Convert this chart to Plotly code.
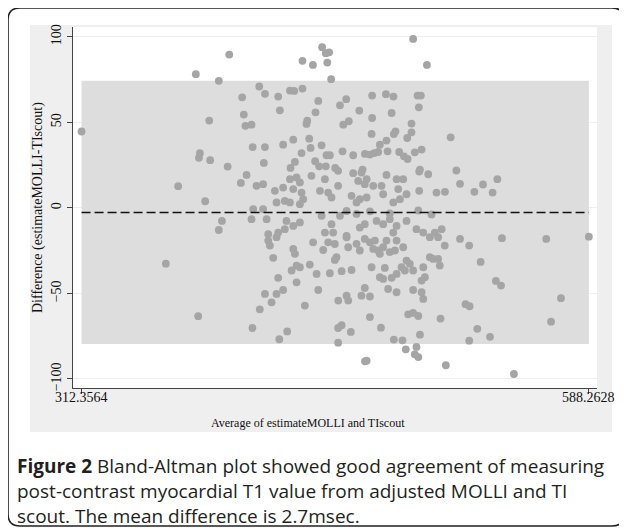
import plotly.graph_objects as go

# ---------------- data ----------------
average = [
    # left part
    392.7, 374.5, 387.0, 399.7, 400.6, 381.8, 401.5, 312.3564, 376.7, 376.2, 382.3, 391.8, 402.1, 399.0,
    364.9, 379.6, 388.7, 387.0, 358.2, 375.8,
    # right part
    513.1, 516.2, 518.2, 526.0, 530.7, 535.9, 538.5, 518.2, 523.2, 541.0, 565.1, 588.2628, 529.4, 537.7,
    540.5, 573.1, 521.2, 523.4, 567.7, 527.6, 534.5, 523.2, 547.5,
    # centre, top
    492.7, 443.2, 445.2, 447.0, 432.5, 438.2, 446.0, 500.2, 448.1, 409.0, 412.1, 419.3, 425.7, 428.0,
    432.5, 441.1, 456.3, 470.4, 477.9, 482.0, 495.1, 496.9,
    # centre, upper middle
    452.9, 420.2, 439.6, 463.4, 481.0, 495.8, 470.4, 404.8, 435.1, 434.7, 454.7, 457.7, 491.8, 483.1,
    482.2, 491.8, 489.5, 470.1, 405.4, 412.1, 422.0, 427.5, 436.2, 436.9, 442.9, 432.0, 445.6, 447.4,
    454.3, 460.1, 466.5, 469.2, 471.5, 473.7, 474.6, 478.2, 478.8, 485.1, 487.7, 489.7, 493.6, 497.3,
    411.5, 428.4, 426.0, 439.4, 441.6, 445.2, 450.3, 465.2, 496.4,
    # centre, around the mean
    451.9, 460.1, 464.6, 478.2, 487.3, 496.0, 500.9, 407.5, 411.1, 417.5, 422.0, 425.7, 429.3, 431.1,
    427.5, 432.0, 432.9, 437.4, 444.7, 442.0, 446.5, 448.3, 451.9, 462.8, 466.4, 467.4, 471.0, 475.5,
    476.4, 459.2, 463.7, 467.4, 461.9, 483.7, 484.6, 489.1, 481.9, 485.5, 496.0, 505.4, 510.0, 418.4,
    422.9, 425.7, 431.1, 405.7, 411.1, 404.8, 413.0, 423.8, 427.5, 431.1, 422.9, 419.3, 413.9, 442.9,
    448.3, 452.9, 449.2, 444.7, 456.5, 463.7, 466.4, 472.8, 476.4, 480.0, 483.7, 481.9, 489.1, 494.5,
    498.2, 504.5, 508.2, 456.5, 461.9, 469.2, 480.0, 495.5, 502.7,
    # centre, lower middle
    413.9, 418.4, 414.8, 427.5, 428.4, 438.3, 446.5, 450.1, 443.8, 456.5, 457.4, 461.9, 463.7, 466.4,
    469.2, 471.0, 471.9, 473.7, 474.6, 476.4, 478.2, 480.0, 482.8, 483.7, 487.3, 501.8, 506.3, 416.6,
    431.1, 429.3, 426.6, 436.5, 440.2, 451.0, 450.1, 447.4, 453.8, 459.2, 470.1, 477.3, 481.0, 483.7,
    486.4, 489.1, 490.9, 492.7, 488.2, 474.6, 476.4, 498.2, 499.1, 497.3, 501.8, 503.6, 506.3, 507.2,
    509.9, 419.3, 429.3, 412.1, 418.4, 422.0, 441.1, 456.5, 452.0, 457.4, 464.6, 466.4, 469.2, 479.1,
    483.7, 492.7, 497.3, 498.2, 415.7, 433.8,
    # centre, bottom
    409.3, 405.3, 424.2, 419.9, 451.9, 453.8, 458.8, 451.9, 469.2, 475.2, 490.0, 492.7, 495.5, 496.4,
    482.2, 486.9, 488.7, 494.5, 493.6, 495.5, 466.5, 467.4, 507.6, 510.5,
]

difference = [
    # left part
    89.7, 78.2, 74.3, 64.7, 54.6, 51.1, 48.0, 44.7, 32.0, 29.3, 27.9, 24.2, 19.3, 14.6,
    12.7, 3.9, -7.6, -12.9, -32.6, -63.3,
    # right part
    41.3, 21.9, 14.1, 9.4, 13.7, 9.0, 16.8, -18.1, -22.0, -17.7, -18.1, -16.8, -31.6, -42.7,
    -45.4, -52.8, -56.3, -57.5, -66.5, -70.7, -75.4, -77.6, -97.1,
    # centre, top
    98.8, 94.0, 90.5, 91.0, 86.0, 83.6, 85.0, 83.6, 75.3, 71.0, 66.7, 65.1, 68.6, 68.4,
    69.8, 62.6, 63.6, 65.7, 66.5, 65.1, 65.7, 65.7,
    # centre, upper middle
    60.0, 57.1, 55.9, 56.9, 55.5, 58.8, 52.6, 48.7, 51.0, 49.1, 48.7, 50.7, 49.3, 44.8,
    43.2, 44.2, 40.9, 43.3, 35.6, 35.6, 37.0, 39.9, 40.5, 35.1, 36.6, 32.1, 30.8, 30.8,
    33.1, 30.8, 31.6, 31.2, 32.1, 32.7, 37.0, 39.4, 33.1, 32.7, 30.2, 28.6, 32.5, 34.1,
    26.3, 26.9, 23.4, 27.3, 24.3, 24.3, 23.4, 22.4, 22.4,
    # centre, around the mean
    21.7, 20.3, 20.7, 19.3, 16.8, 21.3, 19.7, 12.9, 13.9, 10.0, 11.9, 16.8, 17.8, 14.9,
    11.0, 9.0, 5.1, 18.8, 16.8, 10.0, 9.0, 6.1, 12.9, 15.8, 13.9, 16.8, 12.9, 12.9,
    8.0, 7.1, 5.1, 6.1, 3.2, 16.8, 11.0, 8.0, 3.2, 5.1, 10.0, 9.0, 9.4, 3.2,
    4.1, 3.2, 2.2, -0.7, -0.7, -6.6, -6.6, -7.6, -10.5, -8.5, -12.4, -14.4, -15.4, -4.6,
    -9.5, -4.6, -14.4, -14.4, -16.3, -11.5, -9.5, -7.6, -9.5, -6.6, -10.5, -14.4, -7.6, -12.4,
    -14.4, -14.4, -12.4, -1.8, -3.5, -2.0, -3.2, -1.5, -3.8,
    # centre, lower middle
    -19.1, -17.1, -22.0, -24.0, -26.9, -20.1, -20.1, -21.1, -24.6, -17.2, -23.0, -21.0, -24.9, -18.1,
    -20.1, -24.0, -19.1, -24.9, -26.9, -23.0, -19.1, -25.9, -24.9, -19.1, -23.0, -17.1, -17.1, -29.2,
    -34.7, -33.7, -36.6, -33.1, -38.6, -28.8, -30.4, -38.2, -37.0, -36.3, -34.7, -35.1, -40.9, -38.6,
    -34.7, -30.8, -32.7, -36.6, -36.6, -40.5, -41.5, -34.7, -40.5, -42.5, -28.8, -29.8, -29.8, -33.7,
    -22.0, -40.9, -43.5, -50.3, -50.3, -48.0, -48.0, -51.3, -54.2, -54.2, -51.3, -46.8, -51.8, -47.4,
    -49.3, -48.0, -49.3, -53.2, -55.2, -57.1,
    # centre, bottom
    -59.3, -70.2, -72.2, -76.8, -70.2, -68.6, -72.5, -78.8, -63.8, -70.0, -62.2, -61.4, -63.2, -74.1,
    -77.0, -77.4, -82.7, -81.3, -85.6, -87.2, -89.7, -89.3, -64.7, -92.0,
]

mean_diff = -2.7
upper_loa = 74.3
lower_loa = -79.5
x_ticks = [312.3564, 588.2628]
x_tick_text = ["312.3564", "588.2628"]
y_ticks = [-100, -50, 0, 50, 100]

x_min, x_max = min(average), max(average)

# ---------------- figure ----------------
# page body has an 8px margin, so the figure is drawn 8px smaller
OFF = 8
W, H = 627 - OFF, 529 - OFF
L, R, T, B = 65, 30, 19, 141
pw, ph = W - L - R, H - T - B


def px(xr):
    return (xr - OFF - L) / pw


def py(yr):
    return (H - B - (yr - OFF)) / ph


serif = "Liberation Serif"
fig = go.Figure()

# limits-of-agreement band
fig.add_trace(go.Scatter(
    x=[x_min, x_max, x_max, x_min, x_min],
    y=[lower_loa, lower_loa, upper_loa, upper_loa, lower_loa],
    mode="lines", fill="toself", fillcolor="#dddddd",
    line=dict(width=0), hoverinfo="skip", showlegend=False,
))
# points
fig.add_trace(go.Scatter(
    x=average, y=difference, mode="markers",
    marker=dict(size=7.8, color="#a5a5a5", line=dict(width=0)),
    showlegend=False,
))
# mean difference
fig.add_trace(go.Scatter(
    x=[x_min, x_max], y=[mean_diff, mean_diff], mode="lines",
    line=dict(color="#111111", width=1.6, dash="9px,4px"),
    showlegend=False,
))

shapes = [
    dict(type="rect", xref="paper", yref="paper", x0=px(30), x1=px(612), y0=py(432), y1=py(25),
         fillcolor="#efefef", line=dict(width=0), layer="below"),
    dict(type="rect", xref="paper", yref="paper", x0=0, x1=1, y0=0, y1=1,
         fillcolor="white", line=dict(width=0), layer="below"),
]
x0f, x1f, y0f, y1f = px(8), px(624), py(526), py(8)
dx, dy = 12 / pw, 12 / ph
path = (f"M {x0f+dx},{y1f} L {x1f-dx},{y1f} Q {x1f},{y1f} {x1f},{y1f-dy} "
        f"L {x1f},{y0f+dy} Q {x1f},{y0f} {x1f-dx},{y0f} L {x0f+dx},{y0f} "
        f"Q {x0f},{y0f} {x0f},{y0f+dy} L {x0f},{y1f-dy} Q {x0f},{y1f} {x0f+dx},{y1f} Z")
shapes.append(dict(type="path", xref="paper", yref="paper", path=path,
                   line=dict(color="#222222", width=1.6), layer="above"))

annotations = [
    dict(text="Difference (estimateMOLLI-TIscout)", xref="paper", yref="paper",
         x=px(38), y=py(208), textangle=-90, showarrow=False,
         font=dict(family=serif, size=14, color="#111111"), xanchor="center", yanchor="middle"),
    dict(text="Average of estimateMOLLI and TIscout", xref="paper", yref="paper",
         x=px(308), y=py(423), showarrow=False,
         font=dict(family=serif, size=12, color="#111111"), xanchor="center", yanchor="middle"),
]
for v, t in zip(x_ticks, x_tick_text):
    annotations.append(dict(text=t, xref="x", yref="paper", x=v, y=py(397), showarrow=False,
                            xanchor="center", yanchor="middle",
                            font=dict(family=serif, size=14, color="#111111")))
caption = [
    "<b>Figure 2</b> Bland-Altman plot showed good agreement of measuring",
    "post-contrast myocardial T1 value from adjusted MOLLI and TI",
    "scout. The mean difference is 2.7msec.",
]
for i, line in enumerate(caption):
    annotations.append(dict(text=line, xref="paper", yref="paper", x=px(15), y=py(466 + 25 * i),
                            showarrow=False, xanchor="left", yanchor="middle",
                            font=dict(family="Open Sans", size=19, color="#231f20")))

fig.update_layout(
    width=W, height=H, margin=dict(l=L, r=R, t=T, b=B),
    paper_bgcolor="white", plot_bgcolor="white",
    shapes=shapes, annotations=annotations,
    xaxis=dict(range=[307.7, 592.7], tickvals=x_ticks, showticklabels=False,
               showgrid=False, zeroline=False, showline=True, linecolor="#444444", linewidth=1,
               ticks="outside", ticklen=5, tickcolor="#444444"),
    yaxis=dict(range=[-105.3, 105.8], tickvals=y_ticks, tickangle=-90,
               showgrid=True, gridcolor="#eeeeee", gridwidth=1, zeroline=False,
               showline=True, linecolor="#444444", linewidth=1,
               ticks="outside", ticklen=5, tickcolor="#444444",
               tickfont=dict(family=serif, size=14, color="#111111")),
)

fig.write_html("out.html")
